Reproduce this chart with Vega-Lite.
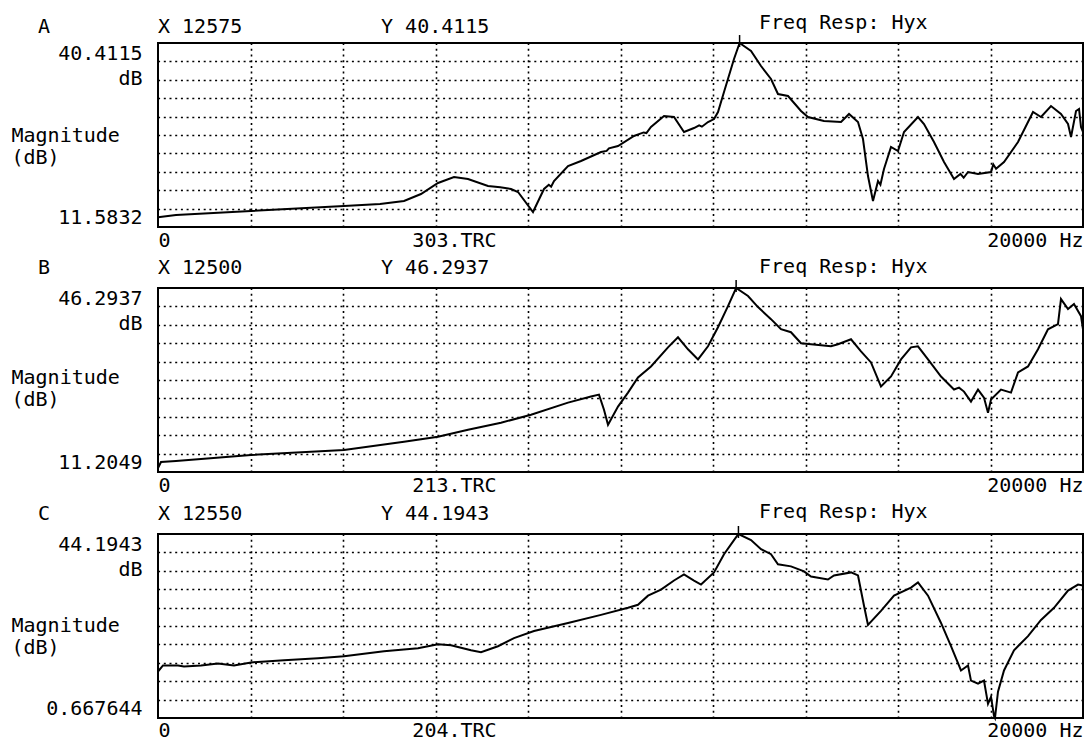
{
  "$schema": "https://vega.github.io/schema/vega-lite/v6.json",
  "background": "white",
  "padding": {"left": 10, "top": 11, "right": 6, "bottom": 1},
  "spacing": 4,
  "config": {
    "font": "DejaVu Sans Mono",
    "view": {"stroke": "black", "strokeWidth": 2},
    "text": {"font": "DejaVu Sans Mono", "fontSize": 20, "color": "black"},
    "axis": {
      "labelFont": "DejaVu Sans Mono", "labelFontSize": 20, "labelColor": "black",
      "titleFont": "DejaVu Sans Mono", "titleFontSize": 20, "titleFontWeight": "normal", "titleColor": "black",
      "gridColor": "black", "gridDash": [2, 3.7], "gridWidth": 1.6, "gridOpacity": 1
    }
  },
  "datasets": {
    "curve": [
      {"p":"A","hz":0,"db":13.1},{"p":"A","hz":389,"db":13.46},{"p":"A","hz":2011,"db":14.09},{"p":"A","hz":4022,"db":14.87},{"p":"A","hz":4800,"db":15.2},{"p":"A","hz":5319,"db":15.66},{"p":"A","hz":5686,"db":16.75},{"p":"A","hz":6054,"db":18.48},{"p":"A","hz":6400,"db":19.42},{"p":"A","hz":6703,"db":19.10},{"p":"A","hz":7135,"db":18.01},{"p":"A","hz":7400,"db":17.8},{"p":"A","hz":7632,"db":17.54},{"p":"A","hz":7784,"db":17.07},{"p":"A","hz":8108,"db":13.93},{"p":"A","hz":8346,"db":17.54},{"p":"A","hz":8450,"db":18.2},{"p":"A","hz":8500,"db":17.9},{"p":"A","hz":8562,"db":18.79},{"p":"A","hz":8865,"db":21.14},{"p":"A","hz":9146,"db":21.92},{"p":"A","hz":9578,"db":23.33},{"p":"A","hz":9700,"db":23.5},{"p":"A","hz":9750,"db":23.9},{"p":"A","hz":9946,"db":24.27},{"p":"A","hz":10292,"db":25.84},{"p":"A","hz":10500,"db":26.4},{"p":"A","hz":10560,"db":26.3},{"p":"A","hz":10659,"db":27.25},{"p":"A","hz":10941,"db":28.97},{"p":"A","hz":11157,"db":28.82},{"p":"A","hz":11373,"db":26.47},{"p":"A","hz":11589,"db":27.09},{"p":"A","hz":11700,"db":27.5},{"p":"A","hz":11760,"db":27.3},{"p":"A","hz":11892,"db":28.03},{"p":"A","hz":12022,"db":28.50},{"p":"A","hz":12108,"db":29.60},{"p":"A","hz":12238,"db":32.73},{"p":"A","hz":12454,"db":37.90},{"p":"A","hz":12575,"db":40.4115},{"p":"A","hz":12822,"db":39.16},{"p":"A","hz":13038,"db":36.81},{"p":"A","hz":13254,"db":34.77},{"p":"A","hz":13405,"db":32.42},{"p":"A","hz":13622,"db":32.11},{"p":"A","hz":13903,"db":29.76},{"p":"A","hz":14054,"db":28.82},{"p":"A","hz":14400,"db":28.19},{"p":"A","hz":14768,"db":28.03},{"p":"A","hz":14941,"db":29.29},{"p":"A","hz":15135,"db":28.03},{"p":"A","hz":15243,"db":25.37},{"p":"A","hz":15351,"db":19.57},{"p":"A","hz":15459,"db":15.66},{"p":"A","hz":15568,"db":18.79},{"p":"A","hz":15620,"db":18.2},{"p":"A","hz":15697,"db":20.67},{"p":"A","hz":15849,"db":24.12},{"p":"A","hz":16000,"db":23.49},{"p":"A","hz":16130,"db":26.47},{"p":"A","hz":16432,"db":28.82},{"p":"A","hz":16562,"db":27.72},{"p":"A","hz":16778,"db":24.90},{"p":"A","hz":16995,"db":21.77},{"p":"A","hz":17211,"db":19.10},{"p":"A","hz":17350,"db":19.9},{"p":"A","hz":17420,"db":19.3},{"p":"A","hz":17514,"db":20.20},{"p":"A","hz":17730,"db":19.89},{"p":"A","hz":18011,"db":20.20},{"p":"A","hz":18060,"db":21.4},{"p":"A","hz":18120,"db":20.7},{"p":"A","hz":18292,"db":21.77},{"p":"A","hz":18595,"db":24.90},{"p":"A","hz":18919,"db":29.60},{"p":"A","hz":19092,"db":28.82},{"p":"A","hz":19308,"db":30.54},{"p":"A","hz":19524,"db":29.29},{"p":"A","hz":19676,"db":27.72},{"p":"A","hz":19741,"db":25.68},{"p":"A","hz":19849,"db":29.76},{"p":"A","hz":19914,"db":30.07},{"p":"A","hz":19957,"db":27.25},{"p":"A","hz":20000,"db":26.47},
      {"p":"B","hz":0,"db":11.97},{"p":"B","hz":65,"db":13.12},{"p":"B","hz":389,"db":13.31},{"p":"B","hz":2011,"db":14.46},{"p":"B","hz":4022,"db":15.42},{"p":"B","hz":5319,"db":16.96},{"p":"B","hz":6054,"db":17.92},{"p":"B","hz":6703,"db":19.26},{"p":"B","hz":7416,"db":20.60},{"p":"B","hz":8065,"db":22.13},{"p":"B","hz":8865,"db":24.44},{"p":"B","hz":9362,"db":25.59},{"p":"B","hz":9535,"db":25.97},{"p":"B","hz":9643,"db":23.09},{"p":"B","hz":9730,"db":20.22},{"p":"B","hz":9946,"db":23.67},{"p":"B","hz":10162,"db":26.35},{"p":"B","hz":10378,"db":29.23},{"p":"B","hz":10659,"db":31.34},{"p":"B","hz":11027,"db":34.98},{"p":"B","hz":11243,"db":36.90},{"p":"B","hz":11459,"db":34.60},{"p":"B","hz":11676,"db":32.68},{"p":"B","hz":11892,"db":35.17},{"p":"B","hz":12108,"db":38.82},{"p":"B","hz":12324,"db":42.84},{"p":"B","hz":12500,"db":46.2937},{"p":"B","hz":12757,"db":44.76},{"p":"B","hz":12973,"db":42.65},{"p":"B","hz":13254,"db":40.35},{"p":"B","hz":13470,"db":38.43},{"p":"B","hz":13686,"db":37.86},{"p":"B","hz":13903,"db":35.75},{"p":"B","hz":14119,"db":35.56},{"p":"B","hz":14551,"db":35.17},{"p":"B","hz":14703,"db":35.56},{"p":"B","hz":14984,"db":36.51},{"p":"B","hz":15200,"db":34.21},{"p":"B","hz":15416,"db":32.10},{"p":"B","hz":15568,"db":28.85},{"p":"B","hz":15632,"db":27.50},{"p":"B","hz":15849,"db":29.42},{"p":"B","hz":16065,"db":32.68},{"p":"B","hz":16281,"db":34.98},{"p":"B","hz":16432,"db":35.17},{"p":"B","hz":16649,"db":32.68},{"p":"B","hz":16930,"db":29.42},{"p":"B","hz":17211,"db":26.93},{"p":"B","hz":17320,"db":27.3},{"p":"B","hz":17427,"db":26.54},{"p":"B","hz":17578,"db":24.63},{"p":"B","hz":17730,"db":26.93},{"p":"B","hz":17859,"db":25.39},{"p":"B","hz":17946,"db":22.52},{"p":"B","hz":18011,"db":25.01},{"p":"B","hz":18227,"db":26.93},{"p":"B","hz":18443,"db":26.35},{"p":"B","hz":18595,"db":30.19},{"p":"B","hz":18811,"db":31.34},{"p":"B","hz":19027,"db":34.60},{"p":"B","hz":19243,"db":38.43},{"p":"B","hz":19459,"db":39.39},{"p":"B","hz":19524,"db":44.18},{"p":"B","hz":19676,"db":42.27},{"p":"B","hz":19805,"db":43.23},{"p":"B","hz":19957,"db":40.92},{"p":"B","hz":20000,"db":38.43},
      {"p":"C","hz":0,"db":11.67},{"p":"C","hz":108,"db":13.10},{"p":"C","hz":432,"db":13.10},{"p":"C","hz":562,"db":12.86},{"p":"C","hz":930,"db":13.10},{"p":"C","hz":1297,"db":13.58},{"p":"C","hz":1643,"db":13.10},{"p":"C","hz":2011,"db":13.82},{"p":"C","hz":2724,"db":14.30},{"p":"C","hz":3459,"db":14.78},{"p":"C","hz":4022,"db":15.26},{"p":"C","hz":4886,"db":16.45},{"p":"C","hz":5622,"db":17.17},{"p":"C","hz":6054,"db":18.13},{"p":"C","hz":6335,"db":17.89},{"p":"C","hz":6768,"db":16.69},{"p":"C","hz":6984,"db":16.21},{"p":"C","hz":7351,"db":17.65},{"p":"C","hz":7697,"db":19.56},{"p":"C","hz":8130,"db":21.24},{"p":"C","hz":8865,"db":23.15},{"p":"C","hz":9578,"db":25.06},{"p":"C","hz":10162,"db":26.74},{"p":"C","hz":10378,"db":27.45},{"p":"C","hz":10595,"db":29.61},{"p":"C","hz":10876,"db":31.04},{"p":"C","hz":11157,"db":33.19},{"p":"C","hz":11373,"db":34.63},{"p":"C","hz":11589,"db":33.19},{"p":"C","hz":11741,"db":32.24},{"p":"C","hz":12022,"db":35.11},{"p":"C","hz":12238,"db":39.41},{"p":"C","hz":12454,"db":42.76},{"p":"C","hz":12550,"db":44.1943},{"p":"C","hz":12822,"db":42.76},{"p":"C","hz":13038,"db":40.61},{"p":"C","hz":13254,"db":39.41},{"p":"C","hz":13405,"db":37.02},{"p":"C","hz":13686,"db":36.54},{"p":"C","hz":13968,"db":35.35},{"p":"C","hz":14119,"db":34.15},{"p":"C","hz":14486,"db":33.43},{"p":"C","hz":14616,"db":34.39},{"p":"C","hz":14984,"db":35.11},{"p":"C","hz":15135,"db":34.39},{"p":"C","hz":15265,"db":27.21},{"p":"C","hz":15351,"db":22.67},{"p":"C","hz":15632,"db":26.02},{"p":"C","hz":15914,"db":29.61},{"p":"C","hz":16281,"db":31.52},{"p":"C","hz":16432,"db":32.72},{"p":"C","hz":16649,"db":29.61},{"p":"C","hz":16930,"db":23.15},{"p":"C","hz":17146,"db":17.65},{"p":"C","hz":17362,"db":11.91},{"p":"C","hz":17514,"db":13.10},{"p":"C","hz":17578,"db":9.52},{"p":"C","hz":17730,"db":8.80},{"p":"C","hz":17859,"db":9.52},{"p":"C","hz":17946,"db":4.02},{"p":"C","hz":18011,"db":5.69},{"p":"C","hz":18076,"db":1.15},{"p":"C","hz":18097,"db":0.667644},{"p":"C","hz":18162,"db":6.89},{"p":"C","hz":18292,"db":11.91},{"p":"C","hz":18508,"db":16.69},{"p":"C","hz":18811,"db":20.04},{"p":"C","hz":19092,"db":23.87},{"p":"C","hz":19373,"db":26.74},{"p":"C","hz":19676,"db":30.80},{"p":"C","hz":19892,"db":32.24},{"p":"C","hz":20000,"db":32.00}
    ],
    "peaks": [
      {"p":"A","hz":12575,"lo":39.78,"hi":41.66},
      {"p":"B","hz":12500,"lo":45.53,"hi":47.82},
      {"p":"C","hz":12550,"lo":43.25,"hi":46.09}
    ],
    "notes": [
      {"p":"A","hz":-2595,"db":42.92,"label":"A"},
      {"p":"A","hz":0,"db":42.92,"label":"X 12575"},
      {"p":"A","hz":4822,"db":42.92,"label":"Y 40.4115"},
      {"p":"A","hz":12995,"db":43.55,"label":"Freq Resp: Hyx"},
      {"p":"B","hz":-2595,"db":50.11,"label":"B"},
      {"p":"B","hz":0,"db":50.11,"label":"X 12500"},
      {"p":"B","hz":4822,"db":50.11,"label":"Y 46.2937"},
      {"p":"B","hz":12995,"db":50.30,"label":"Freq Resp: Hyx"},
      {"p":"C","hz":-2595,"db":48.93,"label":"C"},
      {"p":"C","hz":0,"db":48.93,"label":"X 12550"},
      {"p":"C","hz":4822,"db":48.93,"label":"Y 44.1943"},
      {"p":"C","hz":12995,"db":49.40,"label":"Freq Resp: Hyx"}
    ]
  },
  "vconcat": [
    {
      "width": 925, "height": 184,
      "resolve": {"axis": {"x": "independent", "y": "independent"}},
      "layer": [
        {
          "data": {"name": "curve"},
          "transform": [{"filter": "datum.p === 'A'"}],
          "mark": {"type": "line", "color": "black", "strokeWidth": 2},
          "encoding": {
            "x": {"field": "hz", "type": "quantitative", "scale": {"domain": [0, 20000], "nice": false, "zero": false},
              "axis": {"orient": "bottom", "values": [0, 6400, 20000], "labelExpr": "datum.value == 0 ? '0' : datum.value == 20000 ? '20000 Hz' : '303.TRC'", "ticks": false, "domain": false, "grid": false, "title": null, "labelFlush": true, "labelPadding": 3}},
            "y": {"field": "db", "type": "quantitative", "scale": {"domain": [11.5832, 40.4115], "nice": false, "zero": false},
              "axis": {"orient": "left", "values": [11.5832, 40.4115], "labelExpr": "datum.value > 30 ? ['40.4115', 'dB'] : '11.5832'", "ticks": false, "domain": false, "grid": false, "labelFlush": true, "labelPadding": 16, "labelLineHeight": 25, "title": ["Magnitude", "(dB)"], "titleAngle": 0, "titleAlign": "left", "titleBaseline": "top", "titleX": -147, "titleY": 82, "titleLineHeight": 22}}
          }
        },
        {
          "data": {"name": "peaks"},
          "transform": [{"filter": "datum.p === 'A'"}],
          "mark": {"type": "rule", "color": "black", "strokeWidth": 1.5},
          "encoding": {
            "x": {"field": "hz", "type": "quantitative", "scale": {"domain": [0, 20000], "nice": false, "zero": false},
              "axis": {"orient": "top", "values": [2000, 4000, 6000, 8000, 10000, 12000, 14000, 16000, 18000], "grid": true, "labels": false, "ticks": false, "domain": false, "title": null}},
            "y": {"field": "lo", "type": "quantitative", "scale": {"domain": [11.5832, 40.4115], "nice": false, "zero": false},
              "axis": {"orient": "right", "values": [14.46603, 17.34886, 20.23169, 23.11452, 25.99735, 28.88018, 31.76301, 34.64584, 37.52867], "grid": true, "labels": false, "ticks": false, "domain": false, "title": null}},
            "y2": {"field": "hi"}
          }
        },
        {
          "data": {"name": "notes"},
          "transform": [{"filter": "datum.p === 'A'"}],
          "mark": {"type": "text", "align": "left", "baseline": "middle"},
          "encoding": {
            "x": {"field": "hz", "type": "quantitative", "scale": {"domain": [0, 20000], "nice": false, "zero": false}, "axis": null},
            "y": {"field": "db", "type": "quantitative", "scale": {"domain": [11.5832, 40.4115], "nice": false, "zero": false}, "axis": null},
            "text": {"field": "label"}
          }
        }
      ]
    },
    {
      "width": 925, "height": 184,
      "resolve": {"axis": {"x": "independent", "y": "independent"}},
      "layer": [
        {
          "data": {"name": "curve"},
          "transform": [{"filter": "datum.p === 'B'"}],
          "mark": {"type": "line", "color": "black", "strokeWidth": 2},
          "encoding": {
            "x": {"field": "hz", "type": "quantitative", "scale": {"domain": [0, 20000], "nice": false, "zero": false},
              "axis": {"orient": "bottom", "values": [0, 6400, 20000], "labelExpr": "datum.value == 0 ? '0' : datum.value == 20000 ? '20000 Hz' : '213.TRC'", "ticks": false, "domain": false, "grid": false, "title": null, "labelFlush": true, "labelPadding": 3}},
            "y": {"field": "db", "type": "quantitative", "scale": {"domain": [11.2049, 46.2937], "nice": false, "zero": false},
              "axis": {"orient": "left", "values": [11.2049, 46.2937], "labelExpr": "datum.value > 30 ? ['46.2937', 'dB'] : '11.2049'", "ticks": false, "domain": false, "grid": false, "labelFlush": true, "labelPadding": 16, "labelLineHeight": 25, "title": ["Magnitude", "(dB)"], "titleAngle": 0, "titleAlign": "left", "titleBaseline": "top", "titleX": -147, "titleY": 79, "titleLineHeight": 22}}
          }
        },
        {
          "data": {"name": "peaks"},
          "transform": [{"filter": "datum.p === 'B'"}],
          "mark": {"type": "rule", "color": "black", "strokeWidth": 1.5},
          "encoding": {
            "x": {"field": "hz", "type": "quantitative", "scale": {"domain": [0, 20000], "nice": false, "zero": false},
              "axis": {"orient": "top", "values": [2000, 4000, 6000, 8000, 10000, 12000, 14000, 16000, 18000], "grid": true, "labels": false, "ticks": false, "domain": false, "title": null}},
            "y": {"field": "lo", "type": "quantitative", "scale": {"domain": [11.2049, 46.2937], "nice": false, "zero": false},
              "axis": {"orient": "right", "values": [14.71378, 18.22266, 21.73154, 25.24042, 28.7493, 32.25818, 35.76706, 39.27594, 42.78482], "grid": true, "labels": false, "ticks": false, "domain": false, "title": null}},
            "y2": {"field": "hi"}
          }
        },
        {
          "data": {"name": "notes"},
          "transform": [{"filter": "datum.p === 'B'"}],
          "mark": {"type": "text", "align": "left", "baseline": "middle"},
          "encoding": {
            "x": {"field": "hz", "type": "quantitative", "scale": {"domain": [0, 20000], "nice": false, "zero": false}, "axis": null},
            "y": {"field": "db", "type": "quantitative", "scale": {"domain": [11.2049, 46.2937], "nice": false, "zero": false}, "axis": null},
            "text": {"field": "label"}
          }
        }
      ]
    },
    {
      "width": 925, "height": 184,
      "resolve": {"axis": {"x": "independent", "y": "independent"}},
      "layer": [
        {
          "data": {"name": "curve"},
          "transform": [{"filter": "datum.p === 'C'"}],
          "mark": {"type": "line", "color": "black", "strokeWidth": 2},
          "encoding": {
            "x": {"field": "hz", "type": "quantitative", "scale": {"domain": [0, 20000], "nice": false, "zero": false},
              "axis": {"orient": "bottom", "values": [0, 6400, 20000], "labelExpr": "datum.value == 0 ? '0' : datum.value == 20000 ? '20000 Hz' : '204.TRC'", "ticks": false, "domain": false, "grid": false, "title": null, "labelFlush": true, "labelPadding": 2}},
            "y": {"field": "db", "type": "quantitative", "scale": {"domain": [0.667644, 44.1943], "nice": false, "zero": false},
              "axis": {"orient": "left", "values": [0.667644, 44.1943], "labelExpr": "datum.value > 30 ? ['44.1943', 'dB'] : '0.667644'", "ticks": false, "domain": false, "grid": false, "labelFlush": true, "labelPadding": 16, "labelLineHeight": 25, "title": ["Magnitude", "(dB)"], "titleAngle": 0, "titleAlign": "left", "titleBaseline": "top", "titleX": -147, "titleY": 81, "titleLineHeight": 22}}
          }
        },
        {
          "data": {"name": "peaks"},
          "transform": [{"filter": "datum.p === 'C'"}],
          "mark": {"type": "rule", "color": "black", "strokeWidth": 1.5},
          "encoding": {
            "x": {"field": "hz", "type": "quantitative", "scale": {"domain": [0, 20000], "nice": false, "zero": false},
              "axis": {"orient": "top", "values": [2000, 4000, 6000, 8000, 10000, 12000, 14000, 16000, 18000], "grid": true, "labels": false, "ticks": false, "domain": false, "title": null}},
            "y": {"field": "lo", "type": "quantitative", "scale": {"domain": [0.667644, 44.1943], "nice": false, "zero": false},
              "axis": {"orient": "right", "values": [5.0203096, 9.3729752, 13.7256408, 18.0783064, 22.430972, 26.7836376, 31.1363032, 35.4889688, 39.8416344], "grid": true, "labels": false, "ticks": false, "domain": false, "title": null}},
            "y2": {"field": "hi"}
          }
        },
        {
          "data": {"name": "notes"},
          "transform": [{"filter": "datum.p === 'C'"}],
          "mark": {"type": "text", "align": "left", "baseline": "middle"},
          "encoding": {
            "x": {"field": "hz", "type": "quantitative", "scale": {"domain": [0, 20000], "nice": false, "zero": false}, "axis": null},
            "y": {"field": "db", "type": "quantitative", "scale": {"domain": [0.667644, 44.1943], "nice": false, "zero": false}, "axis": null},
            "text": {"field": "label"}
          }
        }
      ]
    }
  ]
}
